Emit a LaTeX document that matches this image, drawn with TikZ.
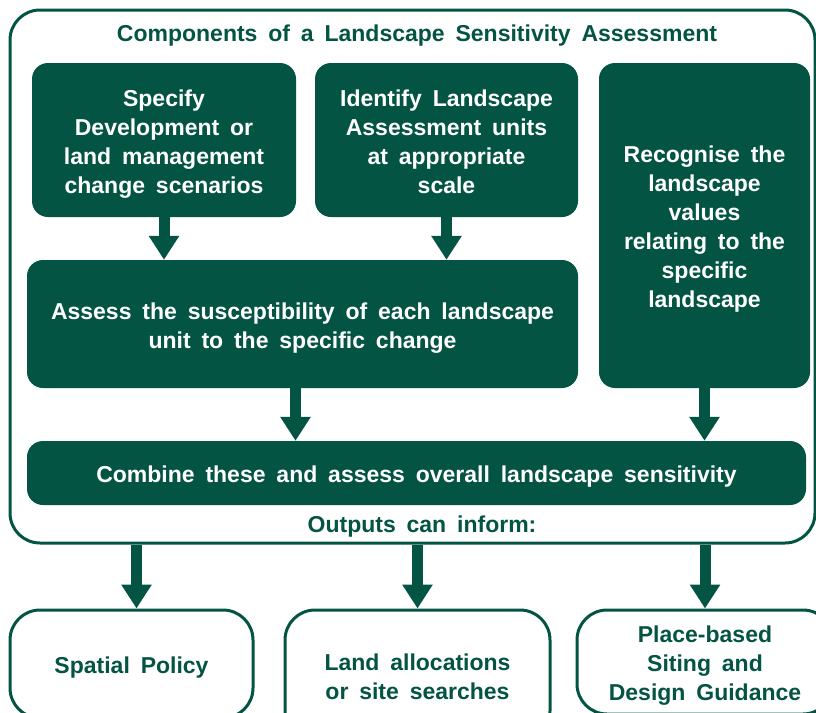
\documentclass[tikz,border=0pt]{standalone}
\usepackage{fontspec}
\setmainfont[WordSpace=1.7]{Liberation Sans}
\usetikzlibrary{arrows.meta}
\definecolor{forest}{RGB}{4, 84, 68}
\newcommand\upstrut{\rule{0pt}{24pt}}

\tikzset{
  boxfont/.style={font=\bfseries\fontsize{23}{29}\selectfont},
  struts/.style={execute at end node={\rule[-5pt]{0pt}{5pt}}},
  stepbox/.style={boxfont, struts, fill=forest, text=white, rounded corners=16pt, inner sep=0pt, align=center},
  outbox/.style={boxfont, struts, draw=forest, fill=white, text=forest, line width=3pt, rounded corners=30pt, inner sep=0pt, align=center},
  bigarrow/.style={draw=forest, line width=11pt, -{Triangle[width=29pt,length=24pt,fill=forest]}},
}

\begin{document}
\begin{tikzpicture}[x=1pt, y=-1pt]
  \clip (0,0) rectangle (816,712);
  % outer frame
  \node[draw=forest, line width=3pt, rounded corners=30pt, inner sep=0pt,
        minimum width=805pt, minimum height=533pt] (frame) at (412.5,276.5) {};
  \node[boxfont, text=forest] (title)   at (417,36)  {Components of a Landscape Sensitivity Assessment};
  \node[boxfont, text=forest] (outputs) at (422,527) {Outputs can inform:};

  % steps inside the frame
  \node[stepbox, minimum width=264pt, minimum height=154pt] (spec)    at (164,140)   {\upstrut Specify\\Development or\\land management\\change scenarios};
  \node[stepbox, minimum width=263pt, minimum height=154pt] (units)   at (446.5,140) {\upstrut Identify Landscape\\Assessment units\\at appropriate\\scale};
  \node[stepbox, minimum width=211pt, minimum height=325pt] (values)  at (704.5,225.5) {\upstrut Recognise the\\landscape\\values\\relating to the\\specific\\landscape};
  \node[stepbox, minimum width=551pt, minimum height=128pt] (suscept) at (302.5,324)  {\upstrut Assess the susceptibility of each landscape\\unit to the specific change};
  \node[stepbox, minimum width=779pt, minimum height=64pt]  (combine) at (416.5,473)  {\upstrut Combine these and assess overall landscape sensitivity};

  % outputs
  \node[outbox, minimum width=243pt, minimum height=108pt] (policy)   at (131.5,664) {\upstrut Spatial Policy};
  \node[outbox, minimum width=265pt, minimum height=131pt] (alloc)    at (417.5,675.5) {\upstrut Land allocations\\or site searches};
  \node[outbox, minimum width=256pt, minimum height=104pt] (guidance) at (705,662)   {\upstrut Place-based\\Siting and\\Design Guidance};

  \draw[bigarrow] (spec.south)    -- (spec.south |- suscept.north);
  \draw[bigarrow] (units.south)   -- (units.south |- suscept.north);
  \draw[bigarrow] ([xshift=-7pt]suscept.south) -- ([xshift=-7pt]suscept.south |- combine.north);
  \draw[bigarrow] (values.south)  -- (values.south |- combine.north);

  \draw[bigarrow] ([xshift=5pt]policy.north |- frame.south) -- ([xshift=5pt]policy.north);
  \draw[bigarrow] (alloc.north |- frame.south)    -- (alloc.north);
  \draw[bigarrow] (guidance.north |- frame.south) -- (guidance.north);
\end{tikzpicture}
\end{document}
